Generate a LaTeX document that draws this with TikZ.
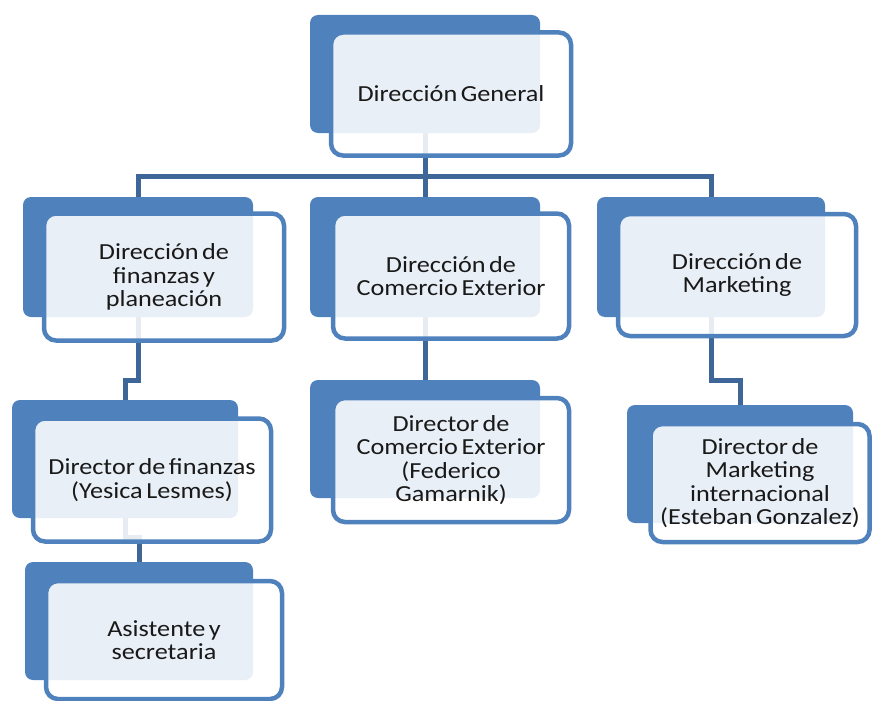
\documentclass[tikz,border=0pt]{standalone}
\usepackage{fontspec}
\setmainfont{Carlito}[FakeStretch=1.14,WordSpace=0.6]
\definecolor{backblue}{RGB}{79,129,189}
\definecolor{linkblue}{RGB}{62,102,152}
\tikzset{
  backbox/.style={rectangle,rounded corners=8pt,fill=backblue,draw=none,inner sep=0pt},
  frontbox/.style={rectangle,rounded corners=12pt,draw=backblue,line width=4.5pt,
    fill=white,fill opacity=0.88,text opacity=1,inner sep=0pt,align=center,
    font=\fontsize{23}{23.5}\selectfont,text=black!90},
  link/.style={draw=linkblue,line width=5pt}
}
\begin{document}
\begin{tikzpicture}[x=1pt,y=-1pt]
\useasboundingbox (0,0) rectangle (875,701);
% back boxes
\node[backbox,minimum width=230pt,minimum height=118pt] (b1) at (425,74) {};
\node[backbox,minimum width=230pt,minimum height=120pt] (b2) at (138,257) {};
\node[backbox,minimum width=230pt,minimum height=120pt] (b3) at (425,257) {};
\node[backbox,minimum width=228pt,minimum height=120pt] (b4) at (711,257) {};
\node[backbox,minimum width=226pt,minimum height=118pt] (b5) at (125,459) {};
\node[backbox,minimum width=228pt,minimum height=118pt] (b6) at (139,621) {};
\node[backbox,minimum width=230pt,minimum height=118pt] (b7) at (425,439) {};
\node[backbox,minimum width=226pt,minimum height=118pt] (b8) at (740,464) {};
% connectors
\draw[link] (b1.south) -- (b3.north);
\draw[link] (b2.north) -- ++(0,-20) -| (b4.north);
\draw[link] (b2.south) -- ++(0,63) -| (b5.north);
\draw[link] (b5.south) -- ++(0,19) -| (b6.north);
\draw[link] (b3.south) -- (b7.north);
\draw[link] (b4.south) -- ++(0,63) -| (b8.north);
% front boxes
\node[frontbox,minimum width=240pt,minimum height=123pt] (f1) at (451,94) {Dirección General};
\node[frontbox,minimum width=240pt,minimum height=127pt] (f2) at (164,277) {Dirección de\\finanzas y\\planeación};
\node[frontbox,minimum width=236pt,minimum height=125pt] (f3) at (451,276) {Dirección de\\Comercio Exterior};
\node[frontbox,minimum width=238pt,minimum height=122pt] (f4) at (737,275) {Dirección de\\Marketing};
\node[frontbox,minimum width=238pt,minimum height=123pt] (f5) at (152,480) {Director de finanzas\\(Yesica Lesmes)};
\node[frontbox,minimum width=236pt,minimum height=118pt] (f6) at (164,640) {Asistente y\\secretaria};
\node[frontbox,minimum width=236pt,minimum height=124pt] (f7) at (451,460) {Director de\\Comercio Exterior\\(Federico\\Gamarnik)};
\node[frontbox,minimum width=219pt,minimum height=118pt] (f8) at (760,483) {Director de\\Marketing\\internacional\\(Esteban Gonzalez)};
\end{tikzpicture}
\end{document}
